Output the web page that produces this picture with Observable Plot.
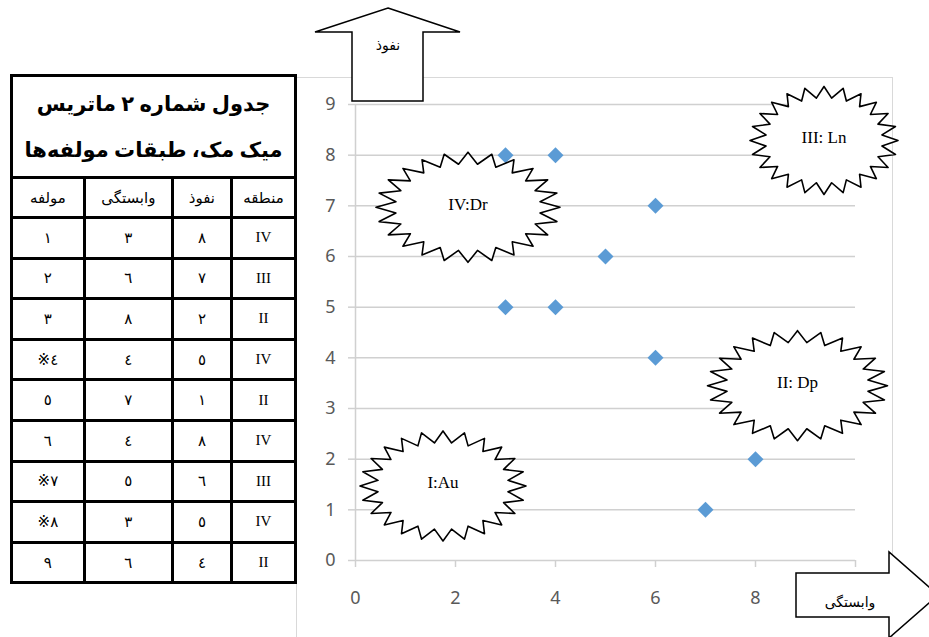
<!DOCTYPE html>
<html>
<head>
<meta charset="utf-8">
<script src="https://cdn.jsdelivr.net/npm/d3@7"></script>
<script src="https://cdn.jsdelivr.net/npm/@observablehq/plot@0.6"></script>
<style>
  html, body { margin: 0; padding: 0; background: #fff; }
  #page { position: relative; width: 929px; height: 637px; overflow: hidden; }
  #border { position: absolute; left: 296px; top: 77px; width: 597px; height: 600px; border: 1px solid #d9d9d9; box-sizing: border-box; }
  #plot { position: absolute; left: 0; top: 0; }
  #overlay { position: absolute; left: 0; top: 0; }
  #tbl { position: absolute; left: 10px; top: 74px; border-collapse: collapse; width: 287px;
         font-family: "Liberation Serif", "DejaVu Sans", serif; color: #000; }
  #tbl td { border: 3px solid #000; text-align: center; padding: 0; }
  #tbl td.title { font-weight: bold; font-size: 21px; line-height: 46px; height: 99px; }
  #tbl tr.hdr td { font-size: 15px; height: 37px; }
  #tbl tr.row td { font-size: 15px; height: 37.6px; }
  #tbl td.reg { font-size: 19px; }
</style>
</head>
<body>
<div id="page">
  <div id="border"></div>
  <div id="plot"></div>
  <svg id="overlay" width="929" height="637"></svg>
  <table id="tbl" dir="rtl"></table>
</div>
<script>
// ---- data ----
const components = [1, 2, 3, 4, 5, 6, 7, 8, 9];
const dependence = [3, 6, 8, 4, 7, 4, 5, 3, 6];   // وابستگی (x)
const influence  = [8, 7, 2, 5, 1, 8, 6, 5, 4];   // نفوذ (y)
const regions    = ["IV", "III", "II", "IV", "II", "IV", "III", "IV", "II"];
const starred    = [false, false, false, true, false, false, true, true, false];

const xTicks = [0, 2, 4, 6, 8, 10];
const xTickLabels = ["0", "2", "4", "6", "8", ""]; // "10" is hidden behind the arrow in the original
const yTicks = [0, 1, 2, 3, 4, 5, 6, 7, 8, 9];

const tableTitle1 = "جدول شماره ٢ ماتریس";
const tableTitle2 = "میک مک، طبقات مولفه‌ها";
const tableHeaders = ["منطقه", "نفوذ", "وابستگی", "مولفه"];
const xAxisName = "وابستگی";
const yAxisName = "نفوذ";

const zoneLabels = ["IV:Dr", "III: Ln", "II: Dp", "I:Au"];
const zoneX = [2.25, 9.37, 8.84, 1.75];
const zoneY = [6.97, 8.29, 3.45, 1.47];

// ---- helpers ----
const fa = n => String(n).replace(/[0-9]/g, d => "٠١٢٣٤٥٦٧٨٩"[+d]);

// ---- table ----
const tbl = document.getElementById("tbl");
let html = `<tr><td colspan="4" class="title">${tableTitle1}<br>${tableTitle2}</td></tr>`;
html += `<tr class="hdr">${tableHeaders.map(h => `<td>${h}</td>`).join("")}</tr>`;
components.forEach((c, i) => {
  const compText = starred[i] ? fa(c) + "※" : fa(c);
  html += `<tr class="row"><td class="reg">${regions[i]}</td><td>${fa(influence[i])}</td><td>${fa(dependence[i])}</td><td>${compText}</td></tr>`;
});
tbl.innerHTML = html;
const colW = [63, 59, 88, 73];
tbl.querySelectorAll("tr.hdr td").forEach((td, i) => td.style.width = colW[i] + "px");

// ---- chart ----
const points = components.map((c, i) => ({x: dependence[i], y: influence[i]}));

// starburst outlines (shape geometry, in pixels converted to data units)
const pxPerX = 50, pxPerY = 50.67;
const zoneRadii = [[92, 55], [74, 54], [90, 55], [83, 55]];
const spikes = 24, innerRatio = 0.79;
const bursts = [];
zoneLabels.forEach((lab, zi) => {
  const [rxp, ryp] = zoneRadii[zi];
  for (let k = 0; k <= spikes * 2; k++) {
    const a = -Math.PI / 2 + k * Math.PI / spikes;
    const r = k % 2 === 0 ? 1 : innerRatio;
    bursts.push({id: zi, x: zoneX[zi] + r * rxp / pxPerX * Math.cos(a), y: zoneY[zi] - r * ryp / pxPerY * Math.sin(a)});
  }
});
const zones = zoneLabels.map((l, i) => ({label: l, x: zoneX[i], y: zoneY[i]}));

const grid = "#d0d0d0";
const chart = Plot.plot({
  width: 929,
  height: 637,
  marginLeft: 355,
  marginRight: 74,
  marginTop: 104,
  marginBottom: 77,
  style: {background: "transparent", fontFamily: "'Noto Sans', sans-serif", fontSize: "18px", color: "#595959", overflow: "visible"},
  x: {domain: [0, 10], label: null},
  y: {domain: [0, 9], label: null},
  marks: [
    Plot.gridY(yTicks, {stroke: grid, strokeOpacity: 1, strokeWidth: 1.5}),
    Plot.axisY(yTicks, {label: null, tickSize: 7, tickPadding: 13, stroke: grid, strokeWidth: 1.5, fill: "#595959", tickFormat: d => d, fontSize: 18}),
    Plot.axisX(xTicks, {label: null, tickSize: 7, tickPadding: 24, stroke: grid, strokeWidth: 1.5, fill: "#595959", tickFormat: d => xTickLabels[xTicks.indexOf(d)], fontSize: 18}),
    Plot.ruleX([0], {y1: 0, y2: 9, stroke: grid, strokeWidth: 1.5}),
    Plot.dot(points, {x: "x", y: "y", symbol: "diamond2", r: 7.2, fill: "#5b9bd5", stroke: "none"}),
    Plot.line(bursts, {x: "x", y: "y", z: "id", fill: "white", stroke: "black", strokeWidth: 1.6, curve: "linear", clip: false}),
    Plot.text(zones, {x: "x", y: "y", text: "label", dy: -3, fill: "black", fontSize: 17, fontFamily: "'Liberation Serif', serif"})
  ]
});
document.getElementById("plot").appendChild(chart);

// ---- axis arrows (decorative callouts) ----
const ov = d3.select("#overlay");
ov.append("polygon")
  .attr("points", "388,8 460,32 423,32 423,101 352,101 352,32 315,32")
  .attr("fill", "white").attr("stroke", "black").attr("stroke-width", 1.5);
ov.append("text").attr("x", 388).attr("y", 50).attr("text-anchor", "middle")
  .attr("font-size", 14).attr("font-family", "'DejaVu Sans', sans-serif").text(yAxisName);
ov.append("polygon")
  .attr("points", "796,573 889,573 889,552 938,595 889,638 889,617 796,617")
  .attr("fill", "white").attr("stroke", "black").attr("stroke-width", 1.5);
ov.append("text").attr("x", 850).attr("y", 607).attr("text-anchor", "middle")
  .attr("font-size", 14).attr("font-family", "'DejaVu Sans', sans-serif").text(xAxisName);
</script>
</body>
</html>
